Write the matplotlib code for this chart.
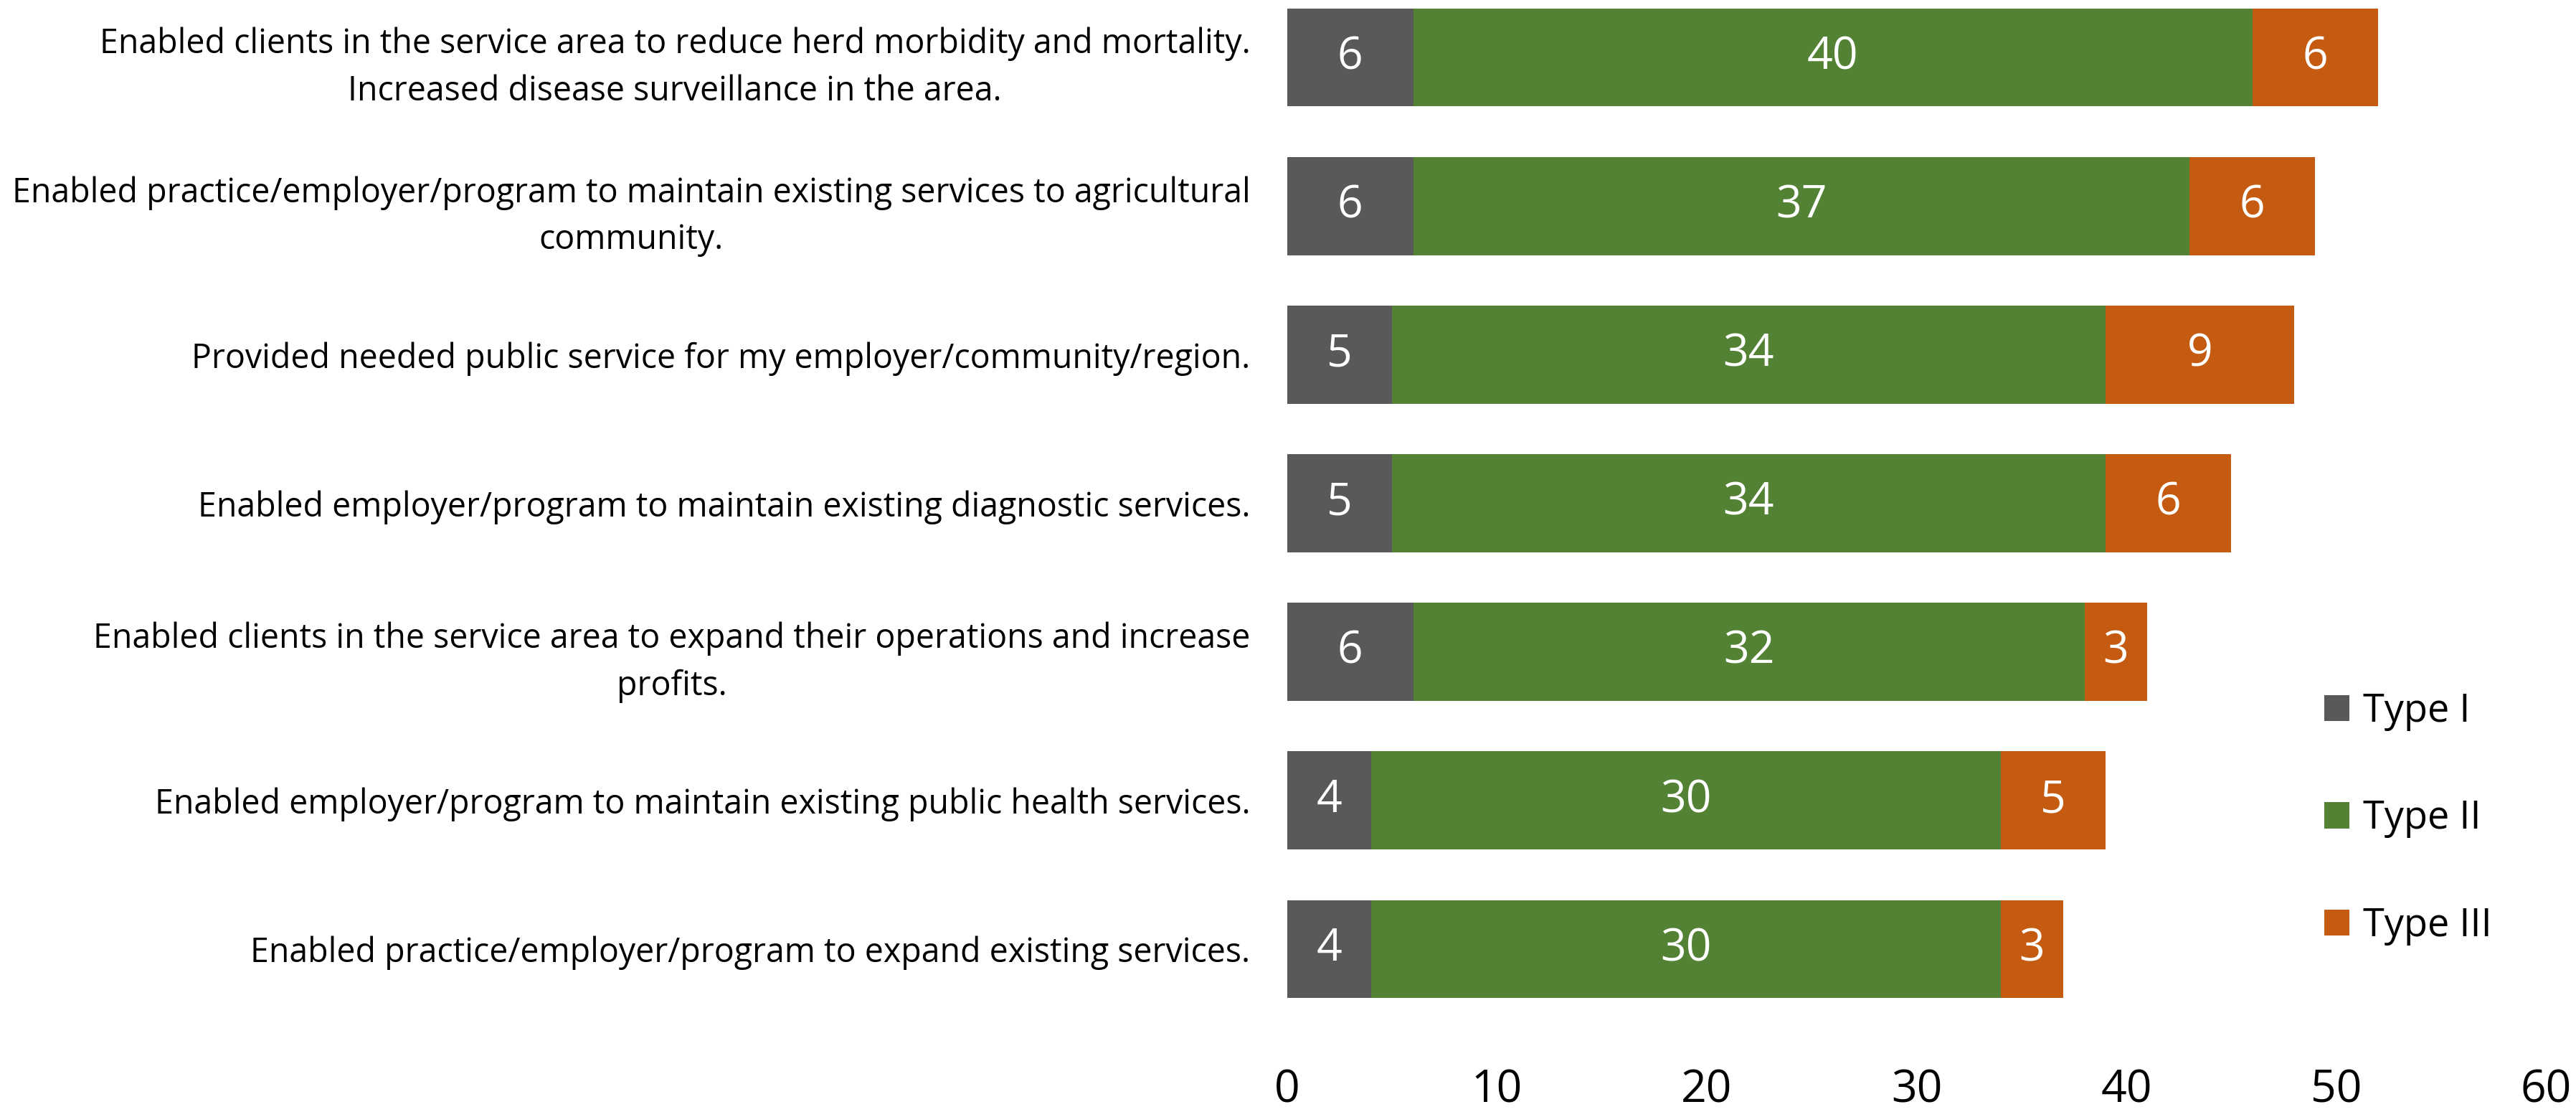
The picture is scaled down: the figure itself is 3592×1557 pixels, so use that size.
import matplotlib
matplotlib.use("Agg")
import matplotlib.pyplot as plt
import numpy as np

plt.rcParams['font.family'] = ['Open Sans', 'DejaVu Sans']

categories = [
    "Enabled clients in the service area to reduce herd morbidity and mortality.\nIncreased disease surveillance in the area.",
    "Enabled practice/employer/program to maintain existing services to agricultural\ncommunity.",
    "Provided needed public service for my employer/community/region.",
    "Enabled employer/program to maintain existing diagnostic services.",
    "Enabled clients in the service area to expand their operations and increase\nprofits.",
    "Enabled employer/program to maintain existing public health services.",
    "Enabled practice/employer/program to expand existing services.",
]
type_i = [6, 6, 5, 5, 6, 4, 4]
type_ii = [40, 37, 34, 34, 32, 30, 30]
type_iii = [6, 6, 9, 6, 3, 5, 3]
series_names = ["Type I", "Type II", "Type III"]
colors = ["#595959", "#548235", "#C55A11"]
xticks = [0, 10, 20, 30, 40, 50, 60]

W, H = 3592, 1557
fig = plt.figure(figsize=(W / 100, H / 100), dpi=100)

# plot area in pixel terms
x0, x1 = 1795, 3550
y_top, y_bot = -23.6, 1426.6
ax = fig.add_axes([x0 / W, (H - y_bot) / H, (x1 - x0) / W, (y_bot - y_top) / H])

y = np.arange(len(categories))
left = np.zeros(len(categories))
for vals, name, col in zip([type_i, type_ii, type_iii], series_names, colors):
    bars = ax.barh(y, vals, left=left, height=0.66, color=col, label=name)
    for b, v, l in zip(bars, vals, left):
        ax.text(l + v / 2, b.get_y() + b.get_height() / 2, str(v),
                ha='center', va='center', color='white', fontsize=45)
    left = left + np.array(vals)

ax.set_xlim(0, 60)
ax.set_ylim(len(categories) - 0.5, -0.5)
ax.set_xticks(xticks)
ax.set_xticklabels([str(t) for t in xticks], fontsize=45)
ax.set_yticks(y)
ax.set_yticklabels(categories, fontsize=33.5, ma='center', linespacing=1.5)
ax.tick_params(axis='y', length=0, pad=37)
ax.tick_params(axis='x', length=0, pad=45)
for s in ax.spines.values():
    s.set_visible(False)

handles, labels = ax.get_legend_handles_labels()
leg = fig.legend(handles, labels, loc='center left',
                 bbox_to_anchor=(3214 / W, 1 - 1141 / H), frameon=False,
                 fontsize=39, handlelength=0.65, handleheight=0.65,
                 handletextpad=0.35, labelspacing=1.75, borderpad=0)

fig.savefig("out.png", dpi=100)
